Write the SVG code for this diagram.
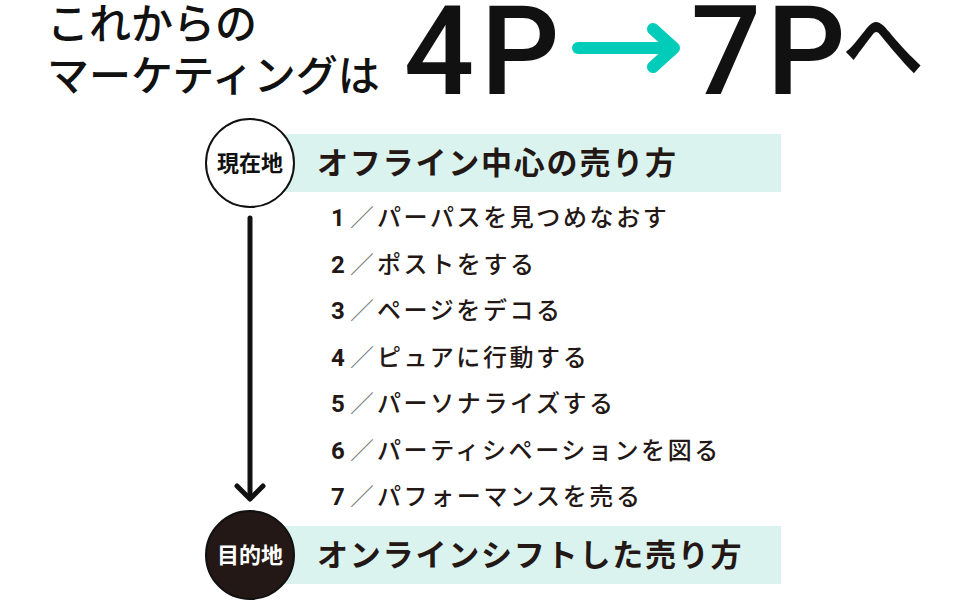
<svg xmlns="http://www.w3.org/2000/svg" width="970" height="600" viewBox="0 0 970 600">
  <defs>
    <style>
      .jp { font-family: "Noto Sans CJK JP", "Noto Sans", sans-serif; }
      .title { font-size: 42px; font-weight: 500; fill: #111; }
      .big { font-family: Roboto, "Liberation Sans", sans-serif; font-size: 124px; font-weight: 500; fill: #111; text-anchor: middle; }
      .band { fill: #dbf3ef; }
      .head { font-size: 31px; font-weight: 700; fill: #231815; letter-spacing: 1.8px; }
      .item { font-size: 24px; font-weight: 500; fill: #231815; letter-spacing: 2.6px; }
      .num { font-family: Roboto, "Liberation Sans", sans-serif; font-weight: 700; letter-spacing: 0; }
      .sl { font-weight: 300; fill: #777; letter-spacing: 0; }
      .badge { font-size: 22px; font-weight: 700; text-anchor: middle; }
      .conn { stroke: #111; stroke-width: 5; fill: none; stroke-linecap: round; stroke-linejoin: round; }
    </style>
  </defs>

  <g id="title">
    <text class="jp title" x="47" y="39">これからの</text>
    <text class="jp title" x="47" y="91">マーケティングは</text>
    <text class="big" x="439" y="94">4</text>
    <text class="big" x="520" y="94">P</text>
    <g id="title-arrow" stroke="#00ccba" stroke-width="12" fill="none" stroke-linecap="round" stroke-linejoin="round">
      <line x1="578" y1="48" x2="672" y2="48"/>
      <polyline points="653,29 674,48 653,67"/>
    </g>
    <text class="big" x="726" y="94">7</text>
    <text class="big" x="806" y="94">P</text>
    <text class="jp" x="883" y="75" font-size="82" font-weight="500" fill="#111" text-anchor="middle">へ</text>
  </g>

  <g id="connectors">
    <line class="conn" x1="250" y1="218" x2="250" y2="498"/>
    <polyline class="conn" points="237,486 250,499 263,486"/>
  </g>

  <g id="node-current">
    <rect class="band" x="250" y="134" width="531" height="58"/>
    <circle cx="250" cy="163" r="44" fill="#fff" stroke="#111" stroke-width="2"/>
    <text class="jp badge" x="250" y="171" fill="#111">現在地</text>
    <text class="jp head" x="317" y="174">オフライン中心の売り方</text>
  </g>

  <g id="items">
    <text class="jp item" x="331" y="226"><tspan class="num">1</tspan><tspan class="sl" x="350">／</tspan><tspan x="377">パーパスを見つめなおす</tspan></text>
    <text class="jp item" x="331" y="273"><tspan class="num">2</tspan><tspan class="sl" x="350">／</tspan><tspan x="377">ポストをする</tspan></text>
    <text class="jp item" x="331" y="319"><tspan class="num">3</tspan><tspan class="sl" x="350">／</tspan><tspan x="377">ページをデコる</tspan></text>
    <text class="jp item" x="331" y="366"><tspan class="num">4</tspan><tspan class="sl" x="350">／</tspan><tspan x="377">ピュアに行動する</tspan></text>
    <text class="jp item" x="331" y="412"><tspan class="num">5</tspan><tspan class="sl" x="350">／</tspan><tspan x="377">パーソナライズする</tspan></text>
    <text class="jp item" x="331" y="459"><tspan class="num">6</tspan><tspan class="sl" x="350">／</tspan><tspan x="377">パーティシペーションを図る</tspan></text>
    <text class="jp item" x="331" y="505"><tspan class="num">7</tspan><tspan class="sl" x="350">／</tspan><tspan x="377">パフォーマンスを売る</tspan></text>
  </g>

  <g id="node-goal">
    <rect class="band" x="250" y="526" width="531" height="58"/>
    <circle cx="250" cy="555" r="44" fill="#231815" stroke="#111" stroke-width="2"/>
    <text class="jp badge" x="250" y="563" fill="#fff">目的地</text>
    <text class="jp head" x="317" y="566">オンラインシフトした売り方</text>
  </g>
</svg>
